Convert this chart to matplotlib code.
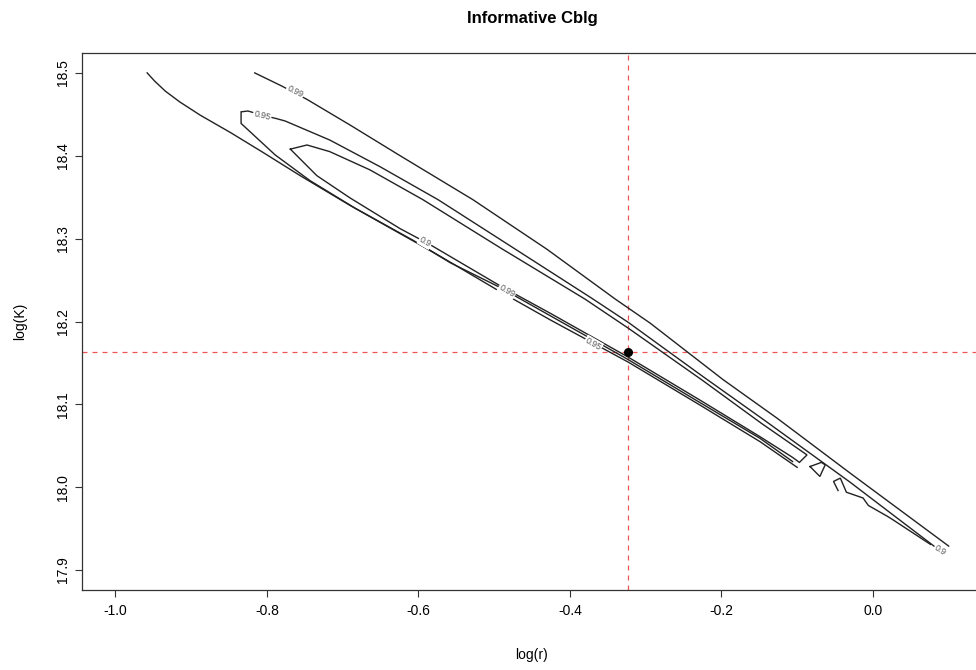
import numpy as np
import matplotlib as mpl
mpl.use('Agg')

rc = {
   'font.family': ['Liberation Sans', 'DejaVu Sans'],
   'axes.unicode_minus': False,
   'axes.linewidth': 0.9,
   'lines.linewidth': 1.0,
}
mpl.rcParams.update(rc)

import matplotlib.pyplot as plt

# ----------------------------------------------------------------------------
# Contour lines (log(r), log(K))

# 0.99 level, upper branch
c99_up_x = [-0.816, -0.780, -0.747, -0.690, -0.624, -0.528, -0.430, -0.340,
            -0.294, -0.198, -0.126, -0.030, 0.100]
c99_up_y = [18.500, 18.484, 18.468, 18.437, 18.400, 18.347, 18.287, 18.227,
            18.198, 18.130, 18.083, 18.017, 17.929]

# 0.99 level, lower branch
c99_lo_x = [-0.958, -0.948, -0.934, -0.915, -0.888, -0.848, -0.805, -0.756,
            -0.690, -0.624, -0.581, -0.492, -0.426, -0.323, -0.228, -0.149,
            -0.100]
c99_lo_y = [18.500, 18.490, 18.478, 18.465, 18.449, 18.428, 18.404, 18.376,
            18.340, 18.306, 18.284, 18.236, 18.202, 18.151, 18.099, 18.055,
            18.024]

# 0.95 level (upper branch, hook, lower branch)
c95_x = [0.082, -0.030, -0.145, -0.225, -0.323, -0.371, -0.492, -0.574,
         -0.651, -0.717, -0.776, -0.788, -0.806, -0.825, -0.834, -0.834,
         -0.789, -0.743, -0.684, -0.607, -0.558, -0.492, -0.426, -0.323,
         -0.228, -0.149, -0.106]
c95_y = [17.928, 18.006, 18.082, 18.134, 18.199, 18.228, 18.299, 18.347,
         18.387, 18.419, 18.442, 18.445, 18.449, 18.454, 18.453, 18.439,
         18.401, 18.370, 18.337, 18.298, 18.271, 18.241, 18.207, 18.154,
         18.102, 18.059, 18.031]

# 0.9 level (closed)
c90_x = [-0.769, -0.747, -0.717, -0.664, -0.594, -0.492, -0.380, -0.323,
         -0.225, -0.147, -0.087, -0.097, -0.106, -0.149, -0.228, -0.323,
         -0.426, -0.492, -0.585, -0.624, -0.690, -0.734, -0.769]
c90_y = [18.408, 18.413, 18.405, 18.383, 18.347, 18.289, 18.227, 18.192,
         18.129, 18.077, 18.039, 18.030, 18.036, 18.061, 18.105, 18.157,
         18.210, 18.243, 18.293, 18.312, 18.349, 18.376, 18.408]

# small pieces near the lower right end
tri_x = [-0.083, -0.068, -0.063, -0.070, -0.083]
tri_y = [18.025, 18.030, 18.027, 18.013, 18.025]
zig_x = [-0.046, -0.052, -0.043, -0.035, -0.013, -0.006, 0.019, 0.026, 0.076]
zig_y = [17.996, 18.007, 18.011, 17.994, 17.987, 17.978, 17.965, 17.961, 17.931]

# contour labels
lab_text = ['0.99', '0.95', '0.9', '0.99', '0.95', '0.9']
lab_x = [-0.763, -0.806, -0.591, -0.483, -0.369, 0.089]
lab_y = [18.477, 18.449, 18.296, 18.237, 18.173, 17.924]
lab_rot = [-27, -14, -30, -30, -30, -33]

# estimate
best_logr = -0.323
best_logK = 18.163

# ----------------------------------------------------------------------------

fig = plt.figure(figsize=(9.76, 6.70), dpi=100)
ax = fig.add_axes([82/976, 80/670, 900/976, 537/670])

lines = [(c99_up_x, c99_up_y), (c99_lo_x, c99_lo_y), (c95_x, c95_y),
         (c90_x, c90_y), (tri_x, tri_y), (zig_x, zig_y)]
for x, y in lines:
   ax.plot(x, y, '-', color='#222222', lw=1.0, solid_joinstyle='miter', zorder=2)

for t, x, y, r in zip(lab_text, lab_x, lab_y, lab_rot):
   ax.text(x, y, t, rotation=r, fontsize=6.3, color='#555555',
           ha='center', va='center', rotation_mode='anchor', zorder=3,
           bbox=dict(fc='white', ec='none', pad=0.6))

ax.axvline(best_logr, color='#EE5555', ls=(0, (4, 4)), lw=0.9, zorder=1)
ax.axhline(best_logK, color='#EE5555', ls=(0, (4, 4)), lw=0.9, zorder=1)
ax.plot([best_logr], [best_logK], 'o', color='black', ms=5.5, zorder=4)

ax.set_xlim(-1.044, 0.144)
ax.set_ylim(17.876, 18.524)
ax.set_xticks([-1.0, -0.8, -0.6, -0.4, -0.2, 0.0])
ax.set_yticks([17.9, 18.0, 18.1, 18.2, 18.3, 18.4, 18.5])
ax.xaxis.set_major_formatter(mpl.ticker.FormatStrFormatter('%.1f'))
ax.yaxis.set_major_formatter(mpl.ticker.FormatStrFormatter('%.1f'))
for s in ax.spines.values():
   s.set_color('#333333')
ax.tick_params(direction='out', length=5, width=0.8, color='#333333',
               labelsize=10, pad=5)
ax.tick_params(axis='y', labelrotation=90, pad=4)
plt.setp(ax.get_yticklabels(), va='center')

fig.text(532/976, 1 - 18/670, 'Informative Cblg', ha='center', va='center',
         fontsize=12, fontweight='bold')
fig.text(532/976, 1 - 655/670, 'log(r)', ha='center', va='center', fontsize=10)
fig.text(20/976, 1 - 321/670, 'log(K)', ha='center', va='center',
         fontsize=10, rotation=90)

fig.savefig('out.png', dpi=100)
